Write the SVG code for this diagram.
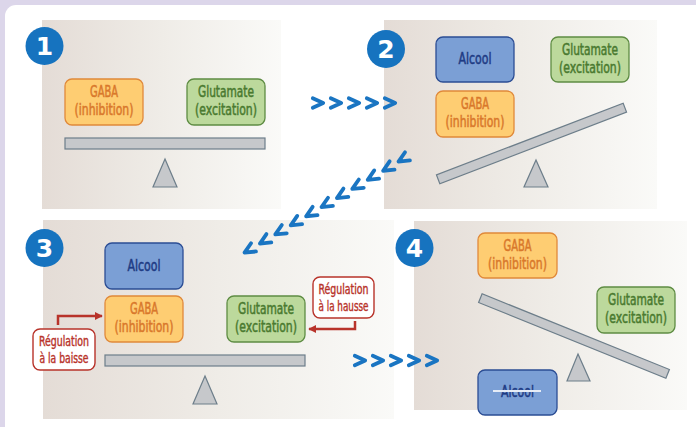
<svg xmlns="http://www.w3.org/2000/svg" width="696" height="427" viewBox="0 0 696 427">
<defs>
<linearGradient id="pg" x1="0" y1="0" x2="1" y2="0">
<stop offset="0" stop-color="#e4dcd6"/>
<stop offset="0.5" stop-color="#efece7"/>
<stop offset="1" stop-color="#fafaf8"/>
</linearGradient>
<marker id="ah" viewBox="0 0 10 10" refX="9" refY="5" markerWidth="3.2" markerHeight="3.2" orient="auto" markerUnits="strokeWidth">
<path d="M0,0 L10,5 L0,10 Z" fill="#b8332a"/>
</marker>
<path id="chev" d="M-5.2,-4.8 L5.2,0 L-5.2,4.8"/>
</defs>
<style>
.lbl{font-family:"DejaVu Sans Condensed","Liberation Sans Narrow","Roboto Condensed",Roboto,sans-serif;font-stretch:condensed;font-size:15.5px;stroke-width:0.5px;text-anchor:middle}
.gaba rect{fill:#fecd72;stroke:#e0893a;stroke-width:1.3}
.gaba text{fill:#d9782b;stroke:#d9782b}
.glu rect{fill:#bcd99c;stroke:#5e8c43;stroke-width:1.3}
.glu text{fill:#4a7a30;stroke:#4a7a30}
.alc rect{fill:#7b9fd5;stroke:#2b4d94;stroke-width:1.3}
.alc text{fill:#1e3b84;stroke:#1e3b84}
.beam{fill:#c6c8cb;stroke:#6d7e8a;stroke-width:1.2}
.num circle{fill:#1673bf}
.num text{fill:#fff;font-family:"DejaVu Sans",sans-serif;font-weight:bold;font-size:25px;text-anchor:middle}
.chev use{fill:none;stroke:#1a75c2;stroke-width:3.8;stroke-linecap:round;stroke-linejoin:round}
.reg rect{fill:#fff;stroke:#b8332a;stroke-width:1.4}
.reg text{fill:#b8332a;stroke:#b8332a;font-size:13.5px;stroke-width:0.4px}
.rarrow{fill:none;stroke:#b8332a;stroke-width:2.5;marker-end:url(#ah)}
</style>
<rect width="696" height="427" fill="#dcd6ea"/>
<rect x="5" y="5" width="710" height="440" rx="11" fill="#ffffff"/>

<!-- panels -->
<rect x="42" y="20" width="239" height="189" fill="url(#pg)"/>
<rect x="384" y="20" width="273" height="189" fill="url(#pg)"/>
<rect x="43" y="220" width="351" height="199" fill="url(#pg)"/>
<rect x="414" y="221" width="273" height="189" fill="url(#pg)"/>

<!-- panel 1 -->
<g id="panel1">
<g class="num"><circle cx="44.5" cy="46" r="19"/><text x="44.5" y="55">1</text></g>
<g id="p1-gaba" class="gaba"><rect x="65" y="79" width="78" height="46" rx="7"/><text class="lbl" x="104" y="97" textLength="28" lengthAdjust="spacingAndGlyphs">GABA</text><text class="lbl" x="104" y="115" textLength="59" lengthAdjust="spacingAndGlyphs">(inhibition)</text></g>
<g id="p1-glu" class="glu"><rect x="187" y="79" width="78" height="46" rx="7"/><text class="lbl" x="226" y="97" textLength="56" lengthAdjust="spacingAndGlyphs">Glutamate</text><text class="lbl" x="226" y="115" textLength="62" lengthAdjust="spacingAndGlyphs">(excitation)</text></g>
<rect class="beam" x="65" y="138" width="200" height="11"/>
<polygon class="beam" points="165,159 177,187 153,187"/>
</g>

<!-- panel 2 -->
<g id="panel2">
<g class="num"><circle cx="386" cy="49" r="19"/><text x="386" y="58">2</text></g>
<g id="p2-alc" class="alc"><rect x="436" y="37" width="78" height="45" rx="7"/><text class="lbl" x="475" y="64" textLength="33" lengthAdjust="spacingAndGlyphs">Alcool</text></g>
<g id="p2-glu" class="glu"><rect x="551" y="37" width="78" height="45" rx="7"/><text class="lbl" x="590" y="55" textLength="56" lengthAdjust="spacingAndGlyphs">Glutamate</text><text class="lbl" x="590" y="73" textLength="62" lengthAdjust="spacingAndGlyphs">(excitation)</text></g>
<g id="p2-gaba" class="gaba"><rect x="436" y="91" width="78" height="46" rx="7"/><text class="lbl" x="475" y="109" textLength="28" lengthAdjust="spacingAndGlyphs">GABA</text><text class="lbl" x="475" y="127" textLength="59" lengthAdjust="spacingAndGlyphs">(inhibition)</text></g>
<rect class="beam" x="-100" y="-4.7" width="200" height="9.4" transform="translate(531.5,143.5) rotate(-21)"/>
<polygon class="beam" points="536,160 548,187 524,187"/>
</g>

<!-- panel 3 -->
<g id="panel3">
<g class="num"><circle cx="44.5" cy="248" r="19"/><text x="44.5" y="257">3</text></g>
<g id="p3-alc" class="alc"><rect x="105" y="243" width="78" height="46" rx="7"/><text class="lbl" x="144" y="271" textLength="33" lengthAdjust="spacingAndGlyphs">Alcool</text></g>
<g id="p3-gaba" class="gaba"><rect x="105" y="296" width="78" height="46" rx="7"/><text class="lbl" x="144" y="314" textLength="28" lengthAdjust="spacingAndGlyphs">GABA</text><text class="lbl" x="144" y="332" textLength="59" lengthAdjust="spacingAndGlyphs">(inhibition)</text></g>
<g id="p3-glu" class="glu"><rect x="227" y="296" width="78" height="46" rx="7"/><text class="lbl" x="266" y="314" textLength="56" lengthAdjust="spacingAndGlyphs">Glutamate</text><text class="lbl" x="266" y="332" textLength="62" lengthAdjust="spacingAndGlyphs">(excitation)</text></g>
<rect class="beam" x="105" y="355" width="200" height="11"/>
<polygon class="beam" points="205,376 217,404 193,404"/>
<g id="reg-baisse" class="reg"><rect x="33" y="329" width="62" height="41" rx="7"/><text class="lbl" x="64" y="346" textLength="50" lengthAdjust="spacingAndGlyphs">Régulation</text><text class="lbl" x="64" y="363" textLength="49" lengthAdjust="spacingAndGlyphs">à la baisse</text></g>
<g id="reg-hausse" class="reg"><rect x="313" y="277" width="61" height="41" rx="7"/><text class="lbl" x="343.5" y="294" textLength="50" lengthAdjust="spacingAndGlyphs">Régulation</text><text class="lbl" x="343.5" y="311" textLength="50" lengthAdjust="spacingAndGlyphs">à la hausse</text></g>
</g>

<!-- panel 4 -->
<g id="panel4">
<g class="num"><circle cx="414.5" cy="248" r="19"/><text x="414.5" y="257">4</text></g>
<g id="p4-gaba" class="gaba"><rect x="478" y="233" width="79" height="45" rx="7"/><text class="lbl" x="517.5" y="251" textLength="28" lengthAdjust="spacingAndGlyphs">GABA</text><text class="lbl" x="517.5" y="269" textLength="59" lengthAdjust="spacingAndGlyphs">(inhibition)</text></g>
<g id="p4-glu" class="glu"><rect x="597" y="287" width="78" height="46" rx="7"/><text class="lbl" x="636" y="305" textLength="56" lengthAdjust="spacingAndGlyphs">Glutamate</text><text class="lbl" x="636" y="323" textLength="62" lengthAdjust="spacingAndGlyphs">(excitation)</text></g>
<rect class="beam" x="-101" y="-4.7" width="202" height="9.4" transform="translate(574,336) rotate(22)"/>
<polygon class="beam" points="578,354 590,381 567,381"/>
<g id="p4-alc" class="alc"><rect x="478" y="370" width="79" height="45" rx="7"/><text class="lbl" x="517.5" y="397" textLength="33" lengthAdjust="spacingAndGlyphs">Alcool</text><line x1="493" y1="391" x2="541" y2="391" stroke="#e6ecf6" stroke-width="2"/></g>
</g>

<!-- connectors -->
<g id="connectors">
<g class="chev">
<use href="#chev" x="318" y="103"/><use href="#chev" x="336" y="103"/><use href="#chev" x="354" y="103"/><use href="#chev" x="372" y="103"/><use href="#chev" x="390" y="103"/>
</g>
<g class="chev">
<use href="#chev" transform="translate(403,159) rotate(149.4)"/>
<use href="#chev" transform="translate(387.6,168.1) rotate(149.4)"/>
<use href="#chev" transform="translate(372.2,177.2) rotate(149.4)"/>
<use href="#chev" transform="translate(356.8,186.3) rotate(149.4)"/>
<use href="#chev" transform="translate(341.4,195.4) rotate(149.4)"/>
<use href="#chev" transform="translate(326,204.5) rotate(149.4)"/>
<use href="#chev" transform="translate(310.6,213.6) rotate(149.4)"/>
<use href="#chev" transform="translate(295.2,222.7) rotate(149.4)"/>
<use href="#chev" transform="translate(279.8,231.8) rotate(149.4)"/>
<use href="#chev" transform="translate(264.4,240.9) rotate(149.4)"/>
<use href="#chev" transform="translate(249,250) rotate(149.4)"/>
</g>
<g class="chev">
<use href="#chev" x="360" y="360.5"/><use href="#chev" x="378" y="360.5"/><use href="#chev" x="396" y="360.5"/><use href="#chev" x="414" y="360.5"/><use href="#chev" x="432" y="360.5"/>
</g>
<path class="rarrow" d="M58,325 V316 H102"/>
<path class="rarrow" d="M355,321 V329 H309"/>
</g>
</svg>
